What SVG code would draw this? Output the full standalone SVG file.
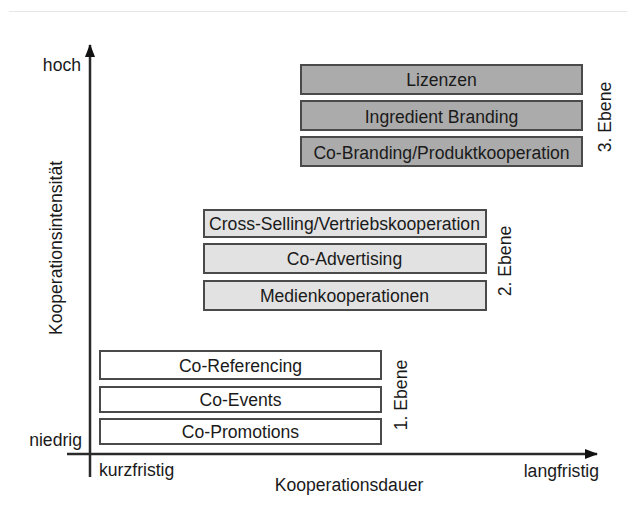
<svg xmlns="http://www.w3.org/2000/svg" width="627" height="524" viewBox="0 0 627 524">
<style>
text{font-family:"Liberation Sans",Arial,sans-serif;font-size:17.6px;fill:#1a1a1a}
.c{text-anchor:middle}
.box rect{stroke:#4a4a4a;stroke-width:2}
.l3 rect{fill:#ababab}
.l2 rect{fill:#e2e2e2}
.l1 rect{fill:#ffffff}
.axis{stroke:#2a2a2a;stroke-width:2.5;fill:none}
</style>
<defs>
<marker id="ahv" markerWidth="13" markerHeight="10" refX="12" refY="5" orient="auto" markerUnits="userSpaceOnUse" viewBox="0 0 13 10">
<path d="M0,0 L13,5 L0,10 Z" fill="#111"/>
</marker>
</defs>
<line x1="9" y1="11.5" x2="627" y2="11.5" stroke="#e6e6e6" stroke-width="1"/>
<g id="connectors">
<line class="axis" x1="90" y1="477" x2="90" y2="45" marker-end="url(#ahv)"/>
<line class="axis" x1="67" y1="454" x2="597" y2="454" marker-end="url(#ahv)"/>
</g>
<g id="axis-labels">
<text x="81" y="71" text-anchor="end">hoch</text>
<text x="82" y="446" text-anchor="end">niedrig</text>
<text x="99" y="476">kurzfristig</text>
<text x="599" y="477" text-anchor="end">langfristig</text>
<text class="c" x="349" y="491">Kooperationsdauer</text>
<text class="c" transform="translate(62,248) rotate(-90)">Kooperationsintensität</text>
</g>
<g id="lizenzen" class="box l3"><rect x="301" y="65" width="281" height="29"/><text class="c" x="441.5" y="86">Lizenzen</text></g>
<g id="ingredient-branding" class="box l3"><rect x="301" y="101" width="281" height="29"/><text class="c" x="441.5" y="123">Ingredient Branding</text></g>
<g id="co-branding" class="box l3"><rect x="301" y="137" width="281" height="29"/><text class="c" x="441.5" y="159">Co-Branding/Produktkooperation</text></g>
<g id="ebene3"><text class="c" transform="translate(611,117) rotate(-90)">3. Ebene</text></g>
<g id="cross-selling" class="box l2"><rect x="204" y="210" width="282" height="27"/><text class="c" x="344.5" y="230">Cross-Selling/Vertriebskooperation</text></g>
<g id="co-advertising" class="box l2"><rect x="204" y="244" width="282" height="29"/><text class="c" x="344.5" y="265">Co-Advertising</text></g>
<g id="medienkooperationen" class="box l2"><rect x="204" y="281" width="282" height="29"/><text class="c" x="344.5" y="302">Medienkooperationen</text></g>
<g id="ebene2"><text class="c" transform="translate(511,261) rotate(-90)">2. Ebene</text></g>
<g id="co-referencing" class="box l1"><rect x="100" y="351" width="281" height="28"/><text class="c" x="240.5" y="372">Co-Referencing</text></g>
<g id="co-events" class="box l1"><rect x="100" y="387" width="281" height="25"/><text class="c" x="240.5" y="406">Co-Events</text></g>
<g id="co-promotions" class="box l1"><rect x="100" y="419" width="281" height="25"/><text class="c" x="240.5" y="438">Co-Promotions</text></g>
<g id="ebene1"><text class="c" transform="translate(407,395) rotate(-90)">1. Ebene</text></g>
</svg>
